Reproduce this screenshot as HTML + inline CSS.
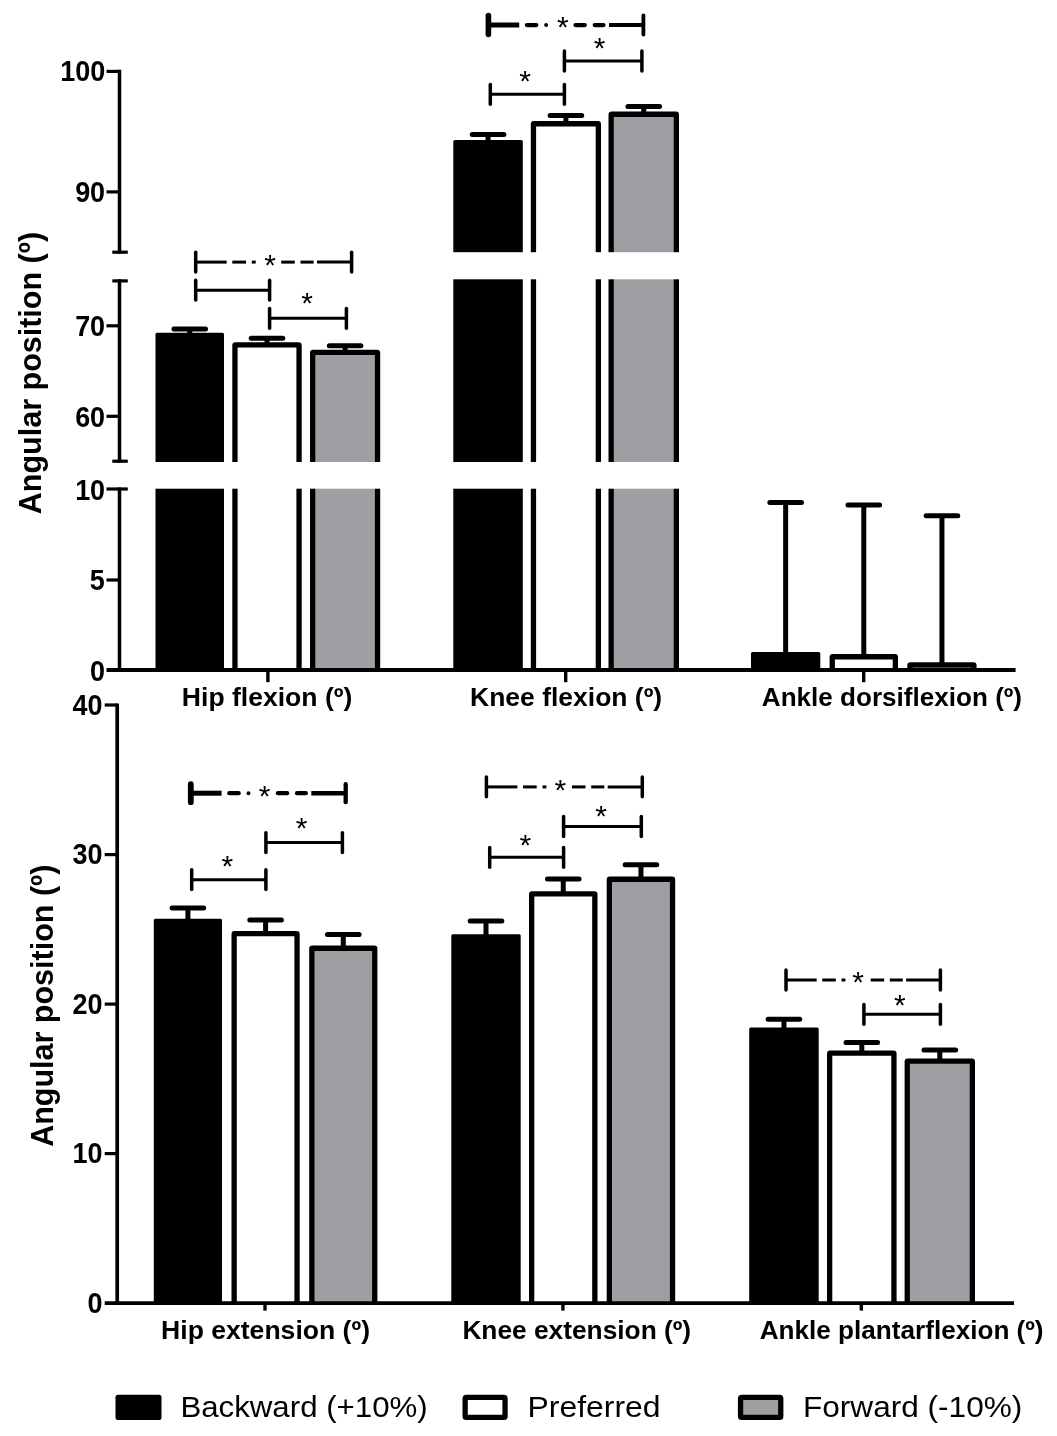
<!DOCTYPE html>
<html lang="en">
<head>
<meta charset="utf-8">
<title>Angular position chart</title>
<style>
html,body{margin:0;padding:0;background:#fff;}
svg{display:block;will-change:transform;}
text{font-family:"Liberation Sans",sans-serif;}
</style>
</head>
<body>
<svg width="1057" height="1436" viewBox="0 0 1057 1436" font-family="'Liberation Sans', sans-serif" fill="#000">
<rect width="1057" height="1436" fill="#fff"/>
<rect x="155.50" y="332.80" width="68.50" height="337.20" fill="#000" rx="1.5"/>
<rect x="234.95" y="344.95" width="64.10" height="330.40" fill="#fff" stroke="#000" stroke-width="5.3" rx="0.5"/>
<rect x="312.65" y="352.45" width="64.90" height="322.90" fill="#9f9ea3" stroke="#000" stroke-width="5.3" rx="0.5"/>
<rect x="453.30" y="139.90" width="69.50" height="530.10" fill="#000" rx="1.5"/>
<rect x="533.45" y="123.75" width="64.90" height="551.60" fill="#fff" stroke="#000" stroke-width="5.3" rx="0.5"/>
<rect x="611.15" y="114.25" width="65.20" height="561.10" fill="#9f9ea3" stroke="#000" stroke-width="5.3" rx="0.5"/>
<rect x="751.00" y="652.00" width="69.30" height="18.00" fill="#000" rx="1.5"/>
<rect x="832.25" y="656.75" width="63.10" height="18.60" fill="#fff" stroke="#000" stroke-width="5.3" rx="0.5"/>
<rect x="909.95" y="664.85" width="64.00" height="10.50" fill="#9f9ea3" stroke="#000" stroke-width="5.3" rx="0.5"/>
<line x1="189.75" y1="329.00" x2="189.75" y2="333.80" stroke="#000" stroke-width="5" stroke-linecap="butt"/>
<line x1="173.95" y1="329.00" x2="205.55" y2="329.00" stroke="#000" stroke-width="5" stroke-linecap="round"/>
<line x1="267.00" y1="338.30" x2="267.00" y2="343.30" stroke="#000" stroke-width="5" stroke-linecap="butt"/>
<line x1="251.20" y1="338.30" x2="282.80" y2="338.30" stroke="#000" stroke-width="5" stroke-linecap="round"/>
<line x1="345.10" y1="345.80" x2="345.10" y2="350.80" stroke="#000" stroke-width="5" stroke-linecap="butt"/>
<line x1="329.30" y1="345.80" x2="360.90" y2="345.80" stroke="#000" stroke-width="5" stroke-linecap="round"/>
<line x1="488.05" y1="134.40" x2="488.05" y2="140.90" stroke="#000" stroke-width="5" stroke-linecap="butt"/>
<line x1="472.25" y1="134.40" x2="503.85" y2="134.40" stroke="#000" stroke-width="5" stroke-linecap="round"/>
<line x1="565.90" y1="115.50" x2="565.90" y2="122.10" stroke="#000" stroke-width="5" stroke-linecap="butt"/>
<line x1="550.10" y1="115.50" x2="581.70" y2="115.50" stroke="#000" stroke-width="5" stroke-linecap="round"/>
<line x1="643.75" y1="106.50" x2="643.75" y2="112.60" stroke="#000" stroke-width="5" stroke-linecap="butt"/>
<line x1="627.95" y1="106.50" x2="659.55" y2="106.50" stroke="#000" stroke-width="5" stroke-linecap="round"/>
<line x1="785.65" y1="502.50" x2="785.65" y2="653.00" stroke="#000" stroke-width="5" stroke-linecap="butt"/>
<line x1="769.85" y1="502.50" x2="801.45" y2="502.50" stroke="#000" stroke-width="5" stroke-linecap="round"/>
<line x1="863.80" y1="505.00" x2="863.80" y2="655.10" stroke="#000" stroke-width="5" stroke-linecap="butt"/>
<line x1="848.00" y1="505.00" x2="879.60" y2="505.00" stroke="#000" stroke-width="5" stroke-linecap="round"/>
<line x1="941.95" y1="515.80" x2="941.95" y2="663.20" stroke="#000" stroke-width="5" stroke-linecap="butt"/>
<line x1="926.15" y1="515.80" x2="957.75" y2="515.80" stroke="#000" stroke-width="5" stroke-linecap="round"/>
<rect x="140.00" y="252.20" width="580.00" height="27.10" fill="#fff" rx="0"/>
<rect x="140.00" y="462.00" width="580.00" height="26.70" fill="#fff" rx="0"/>
<line x1="119.50" y1="69.80" x2="119.50" y2="253.80" stroke="#000" stroke-width="3.5" stroke-linecap="butt"/>
<line x1="106.50" y1="71.40" x2="119.50" y2="71.40" stroke="#000" stroke-width="3.2" stroke-linecap="butt"/>
<line x1="106.50" y1="191.90" x2="119.50" y2="191.90" stroke="#000" stroke-width="3.2" stroke-linecap="butt"/>
<line x1="112.30" y1="252.20" x2="127.80" y2="252.20" stroke="#000" stroke-width="3.2" stroke-linecap="butt"/>
<line x1="119.50" y1="279.30" x2="119.50" y2="462.80" stroke="#000" stroke-width="3.5" stroke-linecap="butt"/>
<line x1="106.50" y1="325.80" x2="119.50" y2="325.80" stroke="#000" stroke-width="3.2" stroke-linecap="butt"/>
<line x1="106.50" y1="416.30" x2="119.50" y2="416.30" stroke="#000" stroke-width="3.2" stroke-linecap="butt"/>
<line x1="112.30" y1="280.90" x2="127.80" y2="280.90" stroke="#000" stroke-width="3.2" stroke-linecap="butt"/>
<line x1="112.30" y1="461.20" x2="127.80" y2="461.20" stroke="#000" stroke-width="3.2" stroke-linecap="butt"/>
<line x1="119.50" y1="487.40" x2="119.50" y2="669.60" stroke="#000" stroke-width="3.5" stroke-linecap="butt"/>
<line x1="106.50" y1="580.00" x2="119.50" y2="580.00" stroke="#000" stroke-width="3.2" stroke-linecap="butt"/>
<line x1="106.50" y1="489.00" x2="127.80" y2="489.00" stroke="#000" stroke-width="3.2" stroke-linecap="butt"/>
<rect x="130.00" y="670.00" width="870.00" height="12.00" fill="#fff" rx="0"/>
<line x1="106.50" y1="670.00" x2="1015.60" y2="670.00" stroke="#000" stroke-width="4" stroke-linecap="butt"/>
<line x1="267.90" y1="670.00" x2="267.90" y2="682.20" stroke="#000" stroke-width="3.4" stroke-linecap="butt"/>
<line x1="565.70" y1="670.00" x2="565.70" y2="682.20" stroke="#000" stroke-width="3.4" stroke-linecap="butt"/>
<line x1="863.70" y1="670.00" x2="863.70" y2="682.20" stroke="#000" stroke-width="3.4" stroke-linecap="butt"/>
<text x="60.17" y="81.00" font-size="29" font-weight="bold" textLength="45.00" lengthAdjust="spacingAndGlyphs">100</text>
<text x="75.14" y="202.00" font-size="29" font-weight="bold" textLength="30.00" lengthAdjust="spacingAndGlyphs">90</text>
<text x="75.14" y="336.00" font-size="29" font-weight="bold" textLength="30.00" lengthAdjust="spacingAndGlyphs">70</text>
<text x="75.14" y="426.81" font-size="29" font-weight="bold" textLength="30.00" lengthAdjust="spacingAndGlyphs">60</text>
<text x="75.14" y="499.50" font-size="29" font-weight="bold" textLength="30.00" lengthAdjust="spacingAndGlyphs">10</text>
<text x="89.71" y="590.30" font-size="29" font-weight="bold" textLength="15.00" lengthAdjust="spacingAndGlyphs">5</text>
<text x="90.11" y="680.80" font-size="29" font-weight="bold" textLength="15.00" lengthAdjust="spacingAndGlyphs">0</text>
<line x1="195.70" y1="262.10" x2="226.70" y2="262.10" stroke="#000" stroke-width="3" stroke-linecap="butt"/>
<line x1="232.30" y1="262.10" x2="246.00" y2="262.10" stroke="#000" stroke-width="3" stroke-linecap="butt"/>
<line x1="251.80" y1="262.10" x2="255.70" y2="262.10" stroke="#000" stroke-width="3" stroke-linecap="butt"/>
<line x1="281.20" y1="262.10" x2="294.80" y2="262.10" stroke="#000" stroke-width="3" stroke-linecap="butt"/>
<line x1="300.50" y1="262.10" x2="313.60" y2="262.10" stroke="#000" stroke-width="3" stroke-linecap="butt"/>
<line x1="317.00" y1="262.10" x2="351.60" y2="262.10" stroke="#000" stroke-width="3" stroke-linecap="butt"/>
<line x1="195.70" y1="252.20" x2="195.70" y2="272.00" stroke="#000" stroke-width="3.5" stroke-linecap="round"/>
<line x1="351.60" y1="252.20" x2="351.60" y2="272.00" stroke="#000" stroke-width="3.5" stroke-linecap="round"/>
<text x="270.00" y="274.60" font-size="30" text-anchor="middle" font-weight="normal">*</text>
<line x1="195.70" y1="290.20" x2="269.60" y2="290.20" stroke="#000" stroke-width="3" stroke-linecap="butt"/>
<line x1="195.70" y1="280.30" x2="195.70" y2="300.10" stroke="#000" stroke-width="3.5" stroke-linecap="round"/>
<line x1="269.60" y1="280.30" x2="269.60" y2="300.10" stroke="#000" stroke-width="3.5" stroke-linecap="round"/>
<line x1="269.60" y1="318.30" x2="346.40" y2="318.30" stroke="#000" stroke-width="3" stroke-linecap="butt"/>
<line x1="269.60" y1="308.40" x2="269.60" y2="328.20" stroke="#000" stroke-width="3.5" stroke-linecap="round"/>
<line x1="346.40" y1="308.40" x2="346.40" y2="328.20" stroke="#000" stroke-width="3.5" stroke-linecap="round"/>
<text x="307.20" y="313.00" font-size="30" text-anchor="middle" font-weight="normal">*</text>
<line x1="488.40" y1="25.00" x2="519.22" y2="25.00" stroke="#000" stroke-width="5.0" stroke-linecap="butt"/>
<line x1="526.91" y1="25.00" x2="536.28" y2="25.00" stroke="#000" stroke-width="4.25" stroke-linecap="round"/>
<circle cx="546.11" cy="25.00" r="1.94" fill="#000"/>
<line x1="575.53" y1="25.00" x2="584.80" y2="25.00" stroke="#000" stroke-width="4.25" stroke-linecap="round"/>
<line x1="594.72" y1="25.00" x2="603.49" y2="25.00" stroke="#000" stroke-width="4.25" stroke-linecap="round"/>
<line x1="609.00" y1="25.00" x2="643.40" y2="25.00" stroke="#000" stroke-width="4.0" stroke-linecap="butt"/>
<line x1="488.40" y1="15.50" x2="488.40" y2="34.50" stroke="#000" stroke-width="5.6" stroke-linecap="round"/>
<line x1="643.40" y1="15.50" x2="643.40" y2="34.50" stroke="#000" stroke-width="3.8" stroke-linecap="round"/>
<text x="562.90" y="37.30" font-size="30" text-anchor="middle" font-weight="normal">*</text>
<line x1="564.40" y1="61.00" x2="641.90" y2="61.00" stroke="#000" stroke-width="3" stroke-linecap="butt"/>
<line x1="564.40" y1="51.10" x2="564.40" y2="70.90" stroke="#000" stroke-width="3.5" stroke-linecap="round"/>
<line x1="641.90" y1="51.10" x2="641.90" y2="70.90" stroke="#000" stroke-width="3.5" stroke-linecap="round"/>
<text x="599.70" y="58.40" font-size="30" text-anchor="middle" font-weight="normal">*</text>
<line x1="490.30" y1="94.30" x2="564.40" y2="94.30" stroke="#000" stroke-width="3" stroke-linecap="butt"/>
<line x1="490.30" y1="84.40" x2="490.30" y2="104.20" stroke="#000" stroke-width="3.5" stroke-linecap="round"/>
<line x1="564.40" y1="84.40" x2="564.40" y2="104.20" stroke="#000" stroke-width="3.5" stroke-linecap="round"/>
<text x="525.20" y="90.50" font-size="30" text-anchor="middle" font-weight="normal">*</text>
<text x="181.87" y="706.40" font-size="26.3" font-weight="bold" textLength="170.43" lengthAdjust="spacingAndGlyphs">Hip flexion (º)</text>
<text x="470.08" y="706.40" font-size="26.3" font-weight="bold" textLength="192.05" lengthAdjust="spacingAndGlyphs">Knee flexion (º)</text>
<text x="761.85" y="706.40" font-size="26.3" font-weight="bold" textLength="260.20" lengthAdjust="spacingAndGlyphs">Ankle dorsiflexion (º)</text>
<rect x="153.80" y="918.70" width="68.20" height="384.30" fill="#000" rx="1.5"/>
<rect x="234.15" y="933.65" width="62.90" height="374.70" fill="#fff" stroke="#000" stroke-width="5.3" rx="0.5"/>
<rect x="311.85" y="948.25" width="62.90" height="360.10" fill="#9f9ea3" stroke="#000" stroke-width="5.3" rx="0.5"/>
<rect x="451.30" y="934.30" width="69.40" height="368.70" fill="#000" rx="1.5"/>
<rect x="531.65" y="893.85" width="63.20" height="414.50" fill="#fff" stroke="#000" stroke-width="5.3" rx="0.5"/>
<rect x="609.35" y="879.25" width="63.20" height="429.10" fill="#9f9ea3" stroke="#000" stroke-width="5.3" rx="0.5"/>
<rect x="749.20" y="1027.50" width="69.50" height="275.50" fill="#000" rx="1.5"/>
<rect x="829.65" y="1053.15" width="64.30" height="255.20" fill="#fff" stroke="#000" stroke-width="5.3" rx="0.5"/>
<rect x="907.25" y="1061.15" width="65.10" height="247.20" fill="#9f9ea3" stroke="#000" stroke-width="5.3" rx="0.5"/>
<line x1="187.90" y1="908.00" x2="187.90" y2="919.70" stroke="#000" stroke-width="5" stroke-linecap="butt"/>
<line x1="172.10" y1="908.00" x2="203.70" y2="908.00" stroke="#000" stroke-width="5" stroke-linecap="round"/>
<line x1="265.60" y1="920.00" x2="265.60" y2="932.00" stroke="#000" stroke-width="5" stroke-linecap="butt"/>
<line x1="249.80" y1="920.00" x2="281.40" y2="920.00" stroke="#000" stroke-width="5" stroke-linecap="round"/>
<line x1="343.30" y1="934.50" x2="343.30" y2="946.60" stroke="#000" stroke-width="5" stroke-linecap="butt"/>
<line x1="327.50" y1="934.50" x2="359.10" y2="934.50" stroke="#000" stroke-width="5" stroke-linecap="round"/>
<line x1="486.00" y1="921.00" x2="486.00" y2="935.30" stroke="#000" stroke-width="5" stroke-linecap="butt"/>
<line x1="470.20" y1="921.00" x2="501.80" y2="921.00" stroke="#000" stroke-width="5" stroke-linecap="round"/>
<line x1="563.25" y1="879.10" x2="563.25" y2="892.20" stroke="#000" stroke-width="5" stroke-linecap="butt"/>
<line x1="547.45" y1="879.10" x2="579.05" y2="879.10" stroke="#000" stroke-width="5" stroke-linecap="round"/>
<line x1="640.95" y1="864.80" x2="640.95" y2="877.60" stroke="#000" stroke-width="5" stroke-linecap="butt"/>
<line x1="625.15" y1="864.80" x2="656.75" y2="864.80" stroke="#000" stroke-width="5" stroke-linecap="round"/>
<line x1="783.95" y1="1019.20" x2="783.95" y2="1028.50" stroke="#000" stroke-width="5" stroke-linecap="butt"/>
<line x1="768.15" y1="1019.20" x2="799.75" y2="1019.20" stroke="#000" stroke-width="5" stroke-linecap="round"/>
<line x1="861.80" y1="1042.50" x2="861.80" y2="1051.50" stroke="#000" stroke-width="5" stroke-linecap="butt"/>
<line x1="846.00" y1="1042.50" x2="877.60" y2="1042.50" stroke="#000" stroke-width="5" stroke-linecap="round"/>
<line x1="939.80" y1="1049.90" x2="939.80" y2="1059.50" stroke="#000" stroke-width="5" stroke-linecap="butt"/>
<line x1="924.00" y1="1049.90" x2="955.60" y2="1049.90" stroke="#000" stroke-width="5" stroke-linecap="round"/>
<line x1="117.20" y1="703.40" x2="117.20" y2="1303.00" stroke="#000" stroke-width="3.7" stroke-linecap="butt"/>
<line x1="104.70" y1="705.00" x2="117.20" y2="705.00" stroke="#000" stroke-width="3.2" stroke-linecap="butt"/>
<line x1="104.70" y1="854.60" x2="117.20" y2="854.60" stroke="#000" stroke-width="3.2" stroke-linecap="butt"/>
<line x1="104.70" y1="1004.10" x2="117.20" y2="1004.10" stroke="#000" stroke-width="3.2" stroke-linecap="butt"/>
<line x1="104.70" y1="1153.60" x2="117.20" y2="1153.60" stroke="#000" stroke-width="3.2" stroke-linecap="butt"/>
<rect x="130.00" y="1303.00" width="870.00" height="12.00" fill="#fff" rx="0"/>
<line x1="104.70" y1="1303.20" x2="1014.00" y2="1303.20" stroke="#000" stroke-width="3.8" stroke-linecap="butt"/>
<line x1="265.00" y1="1303.00" x2="265.00" y2="1310.60" stroke="#000" stroke-width="3.4" stroke-linecap="butt"/>
<line x1="562.90" y1="1303.00" x2="562.90" y2="1310.60" stroke="#000" stroke-width="3.4" stroke-linecap="butt"/>
<line x1="861.30" y1="1303.00" x2="861.30" y2="1310.60" stroke="#000" stroke-width="3.4" stroke-linecap="butt"/>
<text x="72.54" y="714.50" font-size="29" font-weight="bold" textLength="30.00" lengthAdjust="spacingAndGlyphs">40</text>
<text x="72.54" y="864.11" font-size="29" font-weight="bold" textLength="30.00" lengthAdjust="spacingAndGlyphs">30</text>
<text x="72.54" y="1013.61" font-size="29" font-weight="bold" textLength="30.00" lengthAdjust="spacingAndGlyphs">20</text>
<text x="72.54" y="1163.11" font-size="29" font-weight="bold" textLength="30.00" lengthAdjust="spacingAndGlyphs">10</text>
<text x="87.51" y="1312.51" font-size="29" font-weight="bold" textLength="15.00" lengthAdjust="spacingAndGlyphs">0</text>
<line x1="190.80" y1="793.20" x2="221.60" y2="793.20" stroke="#000" stroke-width="5.0" stroke-linecap="butt"/>
<line x1="229.29" y1="793.20" x2="238.65" y2="793.20" stroke="#000" stroke-width="4.25" stroke-linecap="round"/>
<circle cx="248.48" cy="793.20" r="1.94" fill="#000"/>
<line x1="277.88" y1="793.20" x2="287.14" y2="793.20" stroke="#000" stroke-width="4.25" stroke-linecap="round"/>
<line x1="297.05" y1="793.20" x2="305.82" y2="793.20" stroke="#000" stroke-width="4.25" stroke-linecap="round"/>
<line x1="311.32" y1="793.20" x2="345.70" y2="793.20" stroke="#000" stroke-width="4.6" stroke-linecap="butt"/>
<line x1="190.80" y1="784.20" x2="190.80" y2="802.20" stroke="#000" stroke-width="5.8" stroke-linecap="round"/>
<line x1="345.70" y1="784.20" x2="345.70" y2="802.20" stroke="#000" stroke-width="4.3" stroke-linecap="round"/>
<text x="264.70" y="806.00" font-size="30" text-anchor="middle" font-weight="normal">*</text>
<line x1="265.90" y1="842.60" x2="342.40" y2="842.60" stroke="#000" stroke-width="3" stroke-linecap="butt"/>
<line x1="265.90" y1="832.70" x2="265.90" y2="852.50" stroke="#000" stroke-width="3.5" stroke-linecap="round"/>
<line x1="342.40" y1="832.70" x2="342.40" y2="852.50" stroke="#000" stroke-width="3.5" stroke-linecap="round"/>
<text x="301.50" y="838.00" font-size="30" text-anchor="middle" font-weight="normal">*</text>
<line x1="191.70" y1="879.70" x2="265.90" y2="879.70" stroke="#000" stroke-width="3" stroke-linecap="butt"/>
<line x1="191.70" y1="869.80" x2="191.70" y2="889.60" stroke="#000" stroke-width="3.5" stroke-linecap="round"/>
<line x1="265.90" y1="869.80" x2="265.90" y2="889.60" stroke="#000" stroke-width="3.5" stroke-linecap="round"/>
<text x="227.40" y="876.10" font-size="30" text-anchor="middle" font-weight="normal">*</text>
<line x1="486.40" y1="786.90" x2="517.40" y2="786.90" stroke="#000" stroke-width="3" stroke-linecap="butt"/>
<line x1="523.00" y1="786.90" x2="536.70" y2="786.90" stroke="#000" stroke-width="3" stroke-linecap="butt"/>
<line x1="542.50" y1="786.90" x2="546.40" y2="786.90" stroke="#000" stroke-width="3" stroke-linecap="butt"/>
<line x1="571.90" y1="786.90" x2="585.50" y2="786.90" stroke="#000" stroke-width="3" stroke-linecap="butt"/>
<line x1="591.20" y1="786.90" x2="604.30" y2="786.90" stroke="#000" stroke-width="3" stroke-linecap="butt"/>
<line x1="607.70" y1="786.90" x2="642.30" y2="786.90" stroke="#000" stroke-width="3" stroke-linecap="butt"/>
<line x1="486.40" y1="777.00" x2="486.40" y2="796.80" stroke="#000" stroke-width="3.5" stroke-linecap="round"/>
<line x1="642.30" y1="777.00" x2="642.30" y2="796.80" stroke="#000" stroke-width="3.5" stroke-linecap="round"/>
<text x="560.40" y="800.10" font-size="30" text-anchor="middle" font-weight="normal">*</text>
<line x1="563.60" y1="826.50" x2="641.30" y2="826.50" stroke="#000" stroke-width="3" stroke-linecap="butt"/>
<line x1="563.60" y1="816.60" x2="563.60" y2="836.40" stroke="#000" stroke-width="3.5" stroke-linecap="round"/>
<line x1="641.30" y1="816.60" x2="641.30" y2="836.40" stroke="#000" stroke-width="3.5" stroke-linecap="round"/>
<text x="601.20" y="825.70" font-size="30" text-anchor="middle" font-weight="normal">*</text>
<line x1="489.70" y1="857.30" x2="563.60" y2="857.30" stroke="#000" stroke-width="3" stroke-linecap="butt"/>
<line x1="489.70" y1="847.40" x2="489.70" y2="867.20" stroke="#000" stroke-width="3.5" stroke-linecap="round"/>
<line x1="563.60" y1="847.40" x2="563.60" y2="867.20" stroke="#000" stroke-width="3.5" stroke-linecap="round"/>
<text x="525.30" y="854.70" font-size="30" text-anchor="middle" font-weight="normal">*</text>
<line x1="786.00" y1="980.00" x2="816.70" y2="980.00" stroke="#000" stroke-width="3" stroke-linecap="butt"/>
<line x1="822.25" y1="980.00" x2="835.82" y2="980.00" stroke="#000" stroke-width="3" stroke-linecap="butt"/>
<line x1="841.56" y1="980.00" x2="845.42" y2="980.00" stroke="#000" stroke-width="3" stroke-linecap="butt"/>
<line x1="870.68" y1="980.00" x2="884.15" y2="980.00" stroke="#000" stroke-width="3" stroke-linecap="butt"/>
<line x1="889.79" y1="980.00" x2="902.77" y2="980.00" stroke="#000" stroke-width="3" stroke-linecap="butt"/>
<line x1="906.13" y1="980.00" x2="940.40" y2="980.00" stroke="#000" stroke-width="3" stroke-linecap="butt"/>
<line x1="786.00" y1="970.10" x2="786.00" y2="989.90" stroke="#000" stroke-width="3.5" stroke-linecap="round"/>
<line x1="940.40" y1="970.10" x2="940.40" y2="989.90" stroke="#000" stroke-width="3.5" stroke-linecap="round"/>
<text x="858.10" y="992.20" font-size="30" text-anchor="middle" font-weight="normal">*</text>
<line x1="863.90" y1="1014.30" x2="940.40" y2="1014.30" stroke="#000" stroke-width="3" stroke-linecap="butt"/>
<line x1="863.90" y1="1004.40" x2="863.90" y2="1024.20" stroke="#000" stroke-width="3.5" stroke-linecap="round"/>
<line x1="940.40" y1="1004.40" x2="940.40" y2="1024.20" stroke="#000" stroke-width="3.5" stroke-linecap="round"/>
<text x="899.80" y="1015.20" font-size="30" text-anchor="middle" font-weight="normal">*</text>
<text x="161.07" y="1338.80" font-size="26.3" font-weight="bold" textLength="208.95" lengthAdjust="spacingAndGlyphs">Hip extension (º)</text>
<text x="462.39" y="1338.80" font-size="26.3" font-weight="bold" textLength="228.74" lengthAdjust="spacingAndGlyphs">Knee extension (º)</text>
<text x="759.75" y="1338.80" font-size="26.3" font-weight="bold" textLength="283.78" lengthAdjust="spacingAndGlyphs">Ankle plantarflexion (º)</text>
<text transform="translate(41.20,514.26) rotate(-90)" x="0" y="0" font-size="32" font-weight="bold" textLength="282.33" lengthAdjust="spacingAndGlyphs">Angular position (º)</text>
<text transform="translate(53.40,1146.86) rotate(-90)" x="0" y="0" font-size="32" font-weight="bold" textLength="282.23" lengthAdjust="spacingAndGlyphs">Angular position (º)</text>
<rect x="115.50" y="1394.80" width="46.00" height="25.30" fill="#000" rx="2.5"/>
<rect x="465.15" y="1397.45" width="39.90" height="20.00" fill="#fff" stroke="#000" stroke-width="5.3" rx="1.2"/>
<rect x="740.55" y="1397.45" width="40.20" height="20.00" fill="#9f9ea3" stroke="#000" stroke-width="5.3" rx="1.2"/>
<text x="180.40" y="1416.70" font-size="30" font-weight="normal" textLength="247.33" lengthAdjust="spacingAndGlyphs">Backward (+10%)</text>
<text x="527.55" y="1416.70" font-size="30" font-weight="normal" textLength="132.98" lengthAdjust="spacingAndGlyphs">Preferred</text>
<text x="802.97" y="1416.70" font-size="30" font-weight="normal" textLength="219.36" lengthAdjust="spacingAndGlyphs">Forward (-10%)</text>
</svg>
</body>
</html>
